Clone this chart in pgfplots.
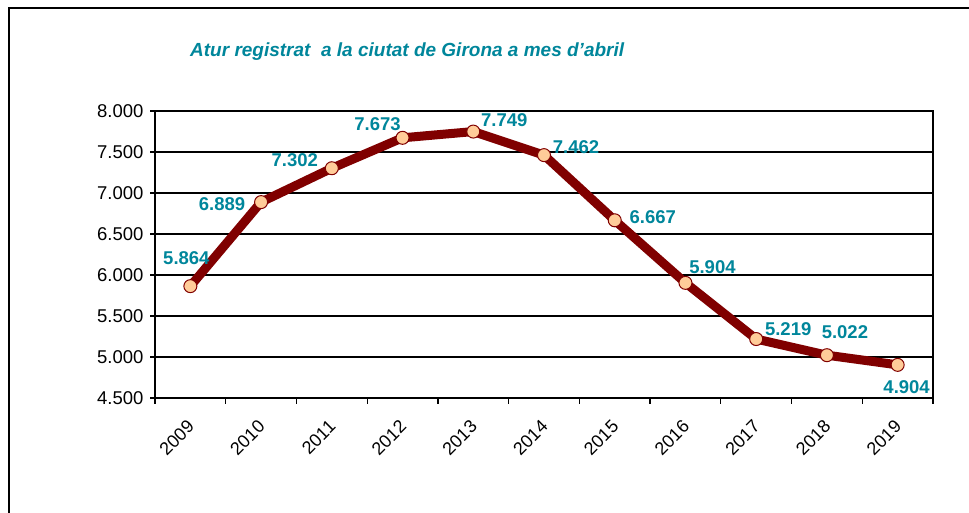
\documentclass[border=0pt]{standalone}
\usepackage{fontspec}
\setmainfont{Liberation Sans}
\usepackage{pgfplots}
\pgfplotsset{compat=1.18}
\usepackage{pgfplotstable}

\definecolor{lbl}{RGB}{0,134,155}
\definecolor{ln}{RGB}{128,0,0}
\definecolor{mk}{RGB}{255,204,153}

% x = category index, dx/dy = label offset from the point
\pgfplotstableread{
x y dx dy lab
0 5864 -4 28 5.864
1 6889 -39 -2 6.889
2 7302 -37 8 7.302
3 7673 -25 14 7.673
4 7749 31 11 7.749
5 7462 32 8 7.462
6 6667 38 3 6.667
7 5904 27 16 5.904
8 5219 32 10 5.219
9 5022 18 23 5.022
10 4904 9 -22 4.904
}\atur

\begin{document}
\begin{tikzpicture}
\useasboundingbox (0pt,0pt) rectangle (969pt,513pt);
\draw[line width=2.5pt] (9pt,0pt) -- (9pt,505pt) -- (969pt,505pt);
\node[font=\fontsize{19}{22}\selectfont\bfseries\itshape, text=lbl, anchor=base west, inner sep=0pt]
  at (190pt,456pt) {Atur registrat\ \ a la ciutat de Girona a mes d'abril};
\begin{axis}[
    at={(155pt,115pt)}, anchor=south west,
    scale only axis, width=778pt, height=287pt,
    xmin=-0.5, xmax=10.5,
    ymin=4500, ymax=8000,
    ytick={4500,5000,...,8000},
    yticklabels={4.500,5.000,5.500,6.000,6.500,7.000,7.500,8.000},
    xtick={0,...,10},
    xticklabels={2009,2010,2011,2012,2013,2014,2015,2016,2017,2018,2019},
    minor xtick={-0.5,0.5,...,10.5},
    tick align=outside, xtick pos=bottom, ytick pos=left,
    major tick length=5pt, minor tick length=6pt,
    major x tick style={draw=none},
    minor x tick style={black, line width=1.3pt},
    major y tick style={black, line width=1.3pt},
    ymajorgrids, grid style={black, line width=1.2pt},
    axis line style={black, line width=1.6pt},
    yticklabel style={font=\fontsize{18.5}{20}\selectfont, xshift=-3pt},
    xticklabel style={font=\fontsize{18}{20}\selectfont, xshift=3pt, yshift=-18pt, rotate=45, anchor=east},
    clip=false,
]
\addplot[ln, line width=9pt, mark=*, mark size=6.5pt,
    mark options={fill=mk, draw=ln, line width=1pt},
    point meta=explicit symbolic,
    visualization depends on={\thisrow{dx} \as \dx},
    visualization depends on={\thisrow{dy} \as \dy},
    nodes near coords,
    nodes near coords style={anchor=center, xshift=\dx pt, yshift=\dy pt,
        text=lbl, font=\fontsize{18.5}{20}\selectfont\bfseries}]
    table[x=x, y=y, meta=lab] {\atur};
\end{axis}
\end{tikzpicture}
\end{document}
